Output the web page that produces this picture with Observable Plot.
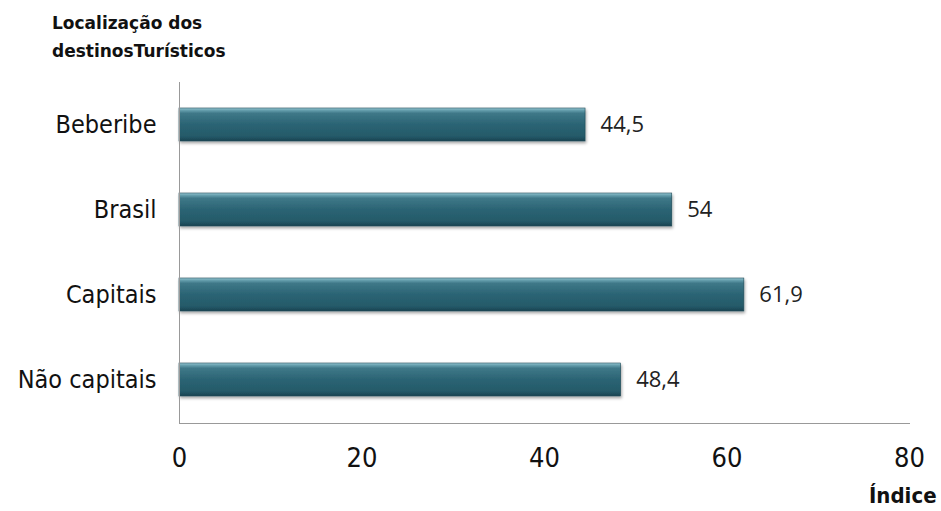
<!DOCTYPE html>
<html>
<head>
<meta charset="utf-8">
<script src="https://cdn.jsdelivr.net/npm/d3@7"></script>
<script src="https://cdn.jsdelivr.net/npm/@observablehq/plot@0.6"></script>
<style>
  body { margin: 0; background: #fff; }
  #wrap { position: relative; width: 941px; height: 511px; }
  #title { position: absolute; left: 52px; top: 9px; font: bold 17px "DejaVu Sans"; line-height: 28px; color: #111; }
  #xlabel { position: absolute; left: 869px; top: 483px; font: bold 22px "DejaVu Sans Condensed", "DejaVu Sans"; font-stretch: condensed; color: #111; }
</style>
</head>
<body>
<div id="wrap">
  <div id="chart"></div>
  <div id="title">Localização dos<br>destinosTurísticos</div>
  <div id="xlabel">Índice</div>
</div>
<script>
const categories = ["Beberibe", "Brasil", "Capitais", "Não capitais"];
const values = [44.5, 54, 61.9, 48.4];
const xTicks = [0, 20, 40, 60, 80];

const data = categories.map((c, i) => ({name: c, value: values[i]}));
const fmt = v => String(v).replace(".", ",");

const chart = Plot.plot({
  width: 941,
  height: 511,
  marginLeft: 179,
  marginRight: 32,
  marginTop: 82,
  marginBottom: 88,
  style: {background: "transparent"},
  x: {domain: [0, 80], ticks: xTicks, label: null},
  y: {domain: categories, label: null, paddingInner: 0.61, paddingOuter: 0.305},
  marks: [
    Plot.barX(data, {x: "value", y: "name", fill: "url(#barGrad)", stroke: "#1d4855", strokeWidth: 0.6}),
    Plot.text(data, {x: "value", y: "name", text: d => fmt(d.value), textAnchor: "start", dx: 15, fontSize: 22, fill: "#222", fontFamily: "Open Sans"}),
    Plot.axisX({ticks: xTicks, tickSize: 0, tickPadding: 24, fontSize: 27, fontFamily: "DejaVu Sans Condensed", fill: "#111", label: null}),
    Plot.axisY({tickSize: 0, tickPadding: 23, fontSize: 25, fontFamily: "DejaVu Sans Condensed", fill: "#111", label: null}),
    Plot.ruleX([0], {stroke: "#999", strokeWidth: 1}),
    Plot.frame({anchor: "bottom", stroke: "#999", strokeWidth: 1})
  ]
});

document.getElementById("chart").appendChild(chart);

const svg = d3.select(chart);
svg.selectAll("g[aria-label='x-axis tick label'], g[aria-label='y-axis tick label']").style("font-stretch", "condensed");
const defs = svg.insert("defs", ":first-child");
const g = defs.append("linearGradient").attr("id", "barGrad").attr("x1", 0).attr("y1", 0).attr("x2", 0).attr("y2", 1);
[[0, "#9ccbd6"], [0.06, "#6aa3b1"], [0.16, "#3f7888"], [0.5, "#2b6474"], [0.85, "#255a69"], [1, "#1a4452"]]
  .forEach(([o, c]) => g.append("stop").attr("offset", o).attr("stop-color", c));
const f = defs.append("filter").attr("id", "shadow").attr("x", "-5%").attr("y", "-20%").attr("width", "110%").attr("height", "160%");
f.append("feDropShadow").attr("dx", 1).attr("dy", 2).attr("stdDeviation", 1.5).attr("flood-color", "#000").attr("flood-opacity", 0.35);
svg.selectAll("g[aria-label='bar'] rect").attr("filter", "url(#shadow)");
</script>
</body>
</html>
